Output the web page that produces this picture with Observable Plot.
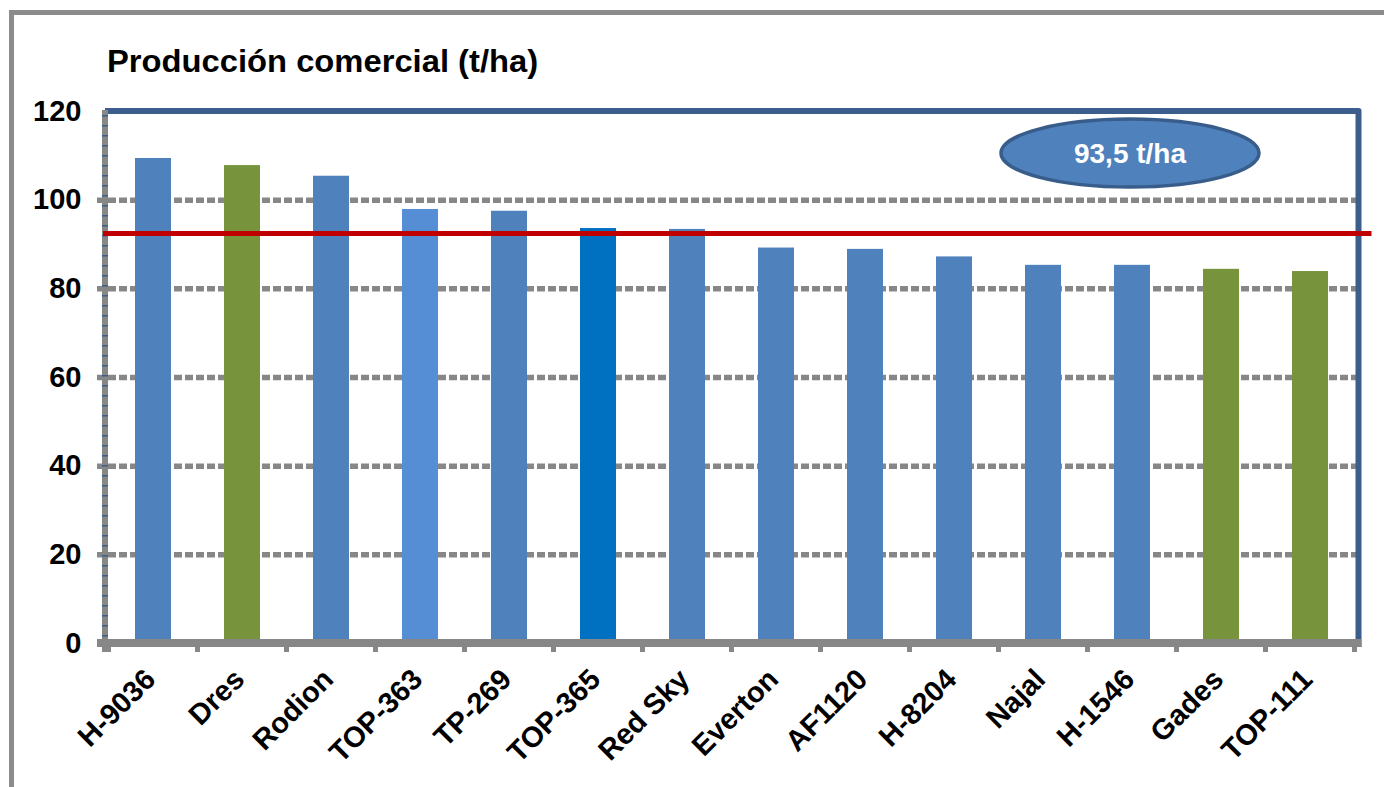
<!DOCTYPE html>
<html><head><meta charset="utf-8">
<script src="https://cdn.jsdelivr.net/npm/d3@7"></script>
<script src="https://cdn.jsdelivr.net/npm/@observablehq/plot@0.6"></script>
<style>
body{margin:0;background:#fff;width:1384px;height:787px;overflow:hidden;position:relative;font-family:"Liberation Sans",Arial,sans-serif}
#frame{position:absolute;left:9px;top:10px;width:1400px;height:800px;border-left:5px solid #8c8c8c;border-top:5px solid #8c8c8c;box-sizing:border-box}
#chart{position:absolute;left:0;top:0}
#title{position:absolute;left:107px;top:46px;font-weight:bold;font-size:31px;line-height:31px;color:#000;white-space:nowrap;transform:scaleX(1.056);transform-origin:0 0}
</style></head>
<body>
<div id="frame"></div>
<div id="chart"></div>
<div id="title">Producción comercial (t/ha)</div>
<script>
// Data
const categories = ["H-9036","Dres","Rodion","TOP-363","TP-269","TOP-365","Red Sky","Everton","AF1120","H-8204","Najal","H-1546","Gades","TOP-111"];
const values = [109.4,107.8,105.4,97.9,97.5,93.6,93.4,89.2,88.9,87.2,85.3,85.3,84.4,83.9];
const groups = ["azul","verde","azul","azul claro","azul","azul oscuro","azul","azul","azul","azul","azul","azul","verde","verde"];
const groupDomain = ["azul","verde","azul claro","azul oscuro"];
const yTicks = [0,20,40,60,80,100,120];
const gridValues = [20,40,60,80,100];
const meanLine = 92.5;
const meanLabel = "93,5 t/ha";
const labelAt = {x: "H-1546", y: 110.5};

const groupColors = ["#4F81BD","#77933C","#558ED5","#0070C0"];
const data = categories.map((c,i)=>({variedad:c, valor:values[i], grupo:groups[i]}));

const plot = Plot.plot({
  width:1384, height:787,
  marginLeft:105, marginRight:25.5, marginTop:111, marginBottom:144,
  style:{fontFamily:"'Liberation Sans', Arial, sans-serif", fontSize:"29px", fontWeight:"bold", background:"transparent", color:"#000", overflow:"visible"},
  x:{domain:categories, paddingInner:0.595, paddingOuter:0.2975, tickSize:0, tickPadding:31, tickRotate:-45, label:null},
  y:{domain:[0,120], ticks:yTicks, tickSize:0, tickPadding:24, label:null},
  color:{domain:groupDomain, range:groupColors},
  marks:[
    Plot.ruleY(gridValues,{stroke:"#878787", strokeWidth:5.5, strokeDasharray:"8,3", insetLeft:-8}),
    Plot.barY(data,{x:"variedad", y:"valor", fill:"grupo"}),
    Plot.ruleY([meanLine],{stroke:"#C00000", strokeWidth:5, insetLeft:-2, insetRight:-13})
  ]
});
document.getElementById("chart").appendChild(plot);

// nudge rotated category labels slightly left, as in the reference
plot.querySelectorAll('g[aria-label^="x-axis"]').forEach(el => {
  if (el.querySelector("text")) {
    const t = el.getAttribute("transform") || "";
    el.setAttribute("transform", t + " translate(-3,0)");
  }
});

const xs = plot.scale("x"), ys = plot.scale("y");
const x0 = xs.range[0], x1 = xs.range[1];
const step = xs.step, bw = xs.bandwidth;
const yTop = ys.apply(120), yBase = ys.apply(0);
const ns = "http://www.w3.org/2000/svg";
const g = document.createElementNS(ns,"g");
const og = d3.select(g);
// blue top/right border
og.append("path")
  .attr("d",`M${x0},${yTop}H${x1}V${yBase+4}`)
  .attr("fill","none").attr("stroke","#3B5E8C").attr("stroke-width",6).attr("stroke-linejoin","round");
// left axis
og.append("line").attr("x1",x0).attr("x2",x0).attr("y1",yTop-1).attr("y2",yBase+9)
  .attr("stroke","#878787").attr("stroke-width",6);
og.append("line").attr("x1",x0).attr("x2",x0).attr("y1",yTop+4).attr("y2",yBase-4)
  .attr("stroke","#3B5E8C").attr("stroke-width",6).attr("stroke-dasharray","1.5,8.5");
// bottom axis
og.append("line").attr("x1",x0-8).attr("x2",x1+3).attr("y1",yBase).attr("y2",yBase)
  .attr("stroke","#878787").attr("stroke-width",8);
// category boundary ticks
const bounds = d3.range(categories.length+1).map(i => i < categories.length ? xs.apply(categories[i]) + bw/2 - step/2 : xs.apply(categories[i-1]) + bw/2 + step/2);
og.selectAll("line.tk").data(bounds).join("line").attr("class","tk")
  .attr("x1",d=>d).attr("x2",d=>d).attr("y1",yBase).attr("y2",yBase+9)
  .attr("stroke","#878787").attr("stroke-width",5);
const red = plot.querySelector('g[stroke="#C00000"]');
if (red) plot.insertBefore(g, red); else plot.appendChild(g);

// annotation ellipse
const cx = xs.apply(labelAt.x) + bw/2 - 2, cy = ys.apply(labelAt.y);
const ann = d3.select(plot).append("g");
ann.append("ellipse").attr("cx",cx).attr("cy",cy).attr("rx",129).attr("ry",34)
  .attr("fill","#4F81BD").attr("stroke","#385D8A").attr("stroke-width",3.5);
ann.append("text").attr("x",cx).attr("y",cy).attr("dy","0.36em").attr("text-anchor","middle")
  .attr("fill","#fff").attr("font-size",28).attr("font-weight","bold").text(meanLabel);
</script>
</body></html>
